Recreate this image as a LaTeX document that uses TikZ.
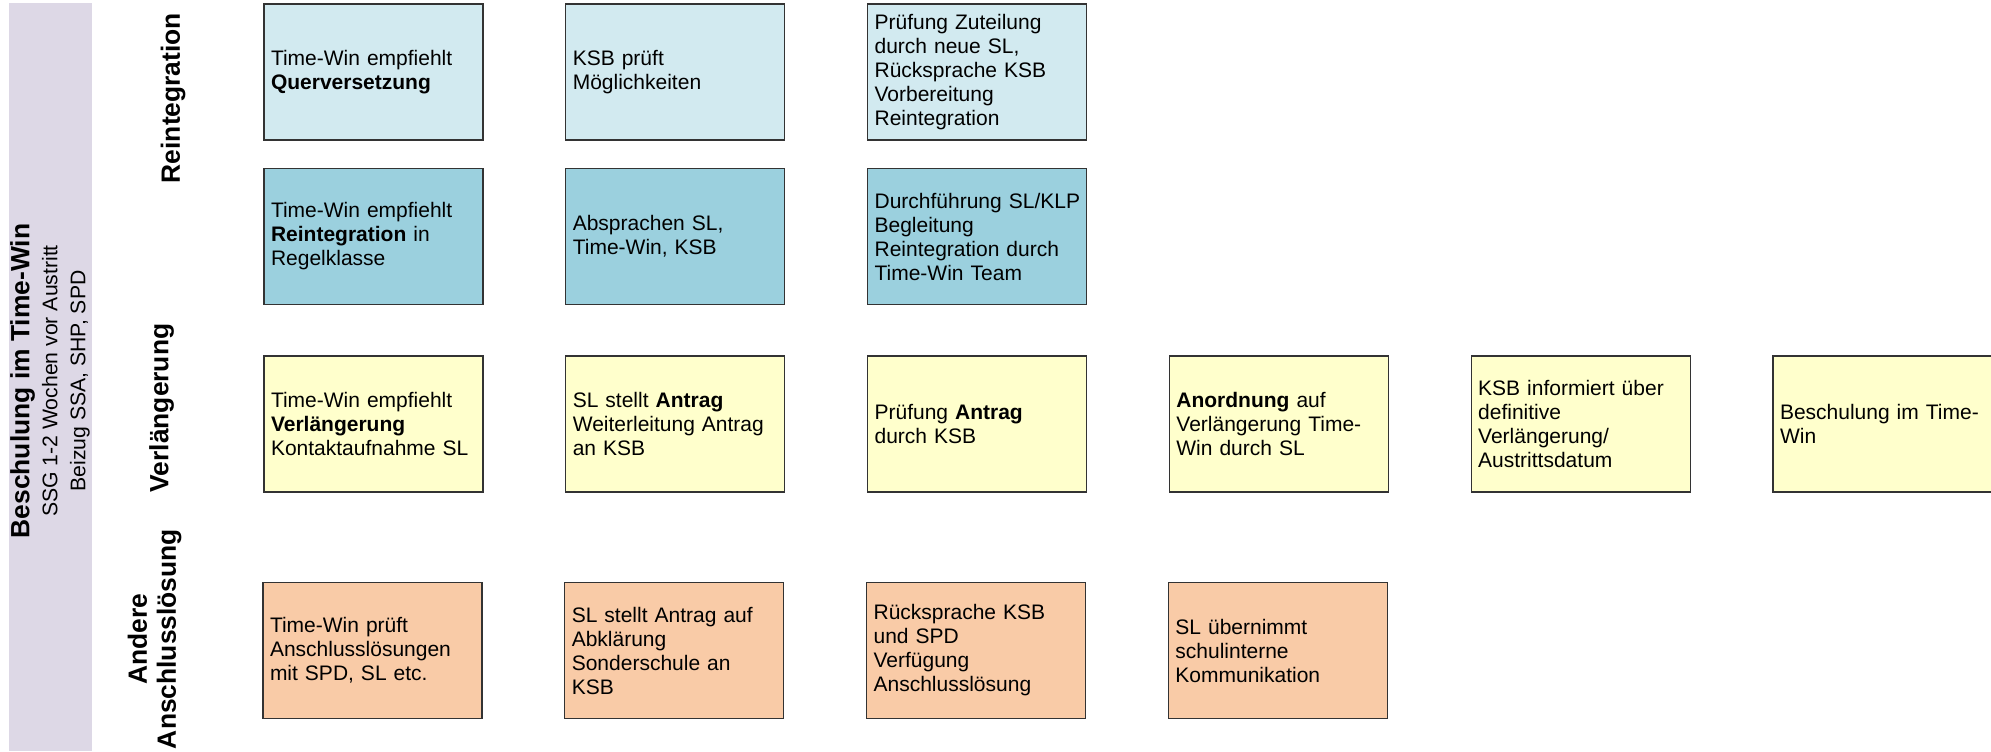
\documentclass[tikz,border=0pt]{standalone}
\usepackage{fontspec}
\setmainfont{Liberation Sans}
\usetikzlibrary{positioning}

\definecolor{bandlila}{HTML}{DDD8E6}
\definecolor{querblau}{HTML}{D2EAF0}
\definecolor{reintblau}{HTML}{9BD0DE}
\definecolor{verlgelb}{HTML}{FFFFCC}
\definecolor{anschlorange}{HTML}{F9CBA7}

\begin{document}
\begin{tikzpicture}[x=0.5pt,y=-0.5pt,node distance=40.8pt,
        taskbox/.style={rectangle,draw=black!80,line width=0.6pt,
          minimum width=109.5pt,minimum height=68pt,
          inner xsep=3.5pt,text width=102.5pt,align=left,
          font=\fontsize{10.5}{12}\selectfont},
        lanelabel/.style={rotate=90,align=center,
          font=\fontsize{13.2}{14.5}\selectfont\bfseries}]

  \path[use as bounding box] (0,0) rectangle (1991,751);
  \clip (0,0) rectangle (1991,751);

  % Seitenbalken
  \fill[bandlila] (9,3) rectangle (92,751);
  \node[rotate=90,align=center,font=\fontsize{10.6}{14}\selectfont] (titel) at (50,381)
    {{\fontsize{13.2}{14}\selectfont\bfseries Beschulung im Time-Win}\\
     SSG 1-2 Wochen vor Austritt\\
     Beizug SSA, SHP, SPD};

  % Zeilentitel
  \node[lanelabel] (lreint) at (173,98) {Reintegration};
  \node[lanelabel] (lverl) at (161.5,408) {Verlängerung};
  \node[lanelabel] (lander) at (154.5,639) {Andere\\Anschlusslösung};

  % Querversetzung
  \node[taskbox,fill=querblau] (q1) at (373.5,72)
    {Time-Win empfiehlt\\\textbf{Querversetzung}};
  \node[taskbox,fill=querblau] (q2) [right=of q1]
    {KSB prüft\\Möglichkeiten};
  \node[taskbox,fill=querblau] (q3) [right=of q2]
    {Prüfung Zuteilung\\durch neue SL,\\Rücksprache KSB\\Vorbereitung\\Reintegration};

  % Reintegration
  \node[taskbox,fill=reintblau] (i1) at (373.5,236.5)
    {Time-Win empfiehlt\\\textbf{Reintegration} in\\Regelklasse};
  \node[taskbox,fill=reintblau] (i2) [right=of i1]
    {Absprachen SL,\\Time-Win, KSB};
  \node[taskbox,fill=reintblau] (i3) [right=of i2]
    {\mbox{Durchführung SL/KLP}\\Begleitung\\Reintegration durch\\Time-Win Team};

  % Verlaengerung
  \node[taskbox,fill=verlgelb] (v1) at (373.5,424)
    {Time-Win empfiehlt\\\textbf{Verlängerung}\\Kontaktaufnahme SL};
  \node[taskbox,fill=verlgelb] (v2) [right=of v1]
    {SL stellt \textbf{Antrag}\\Weiterleitung Antrag\\an KSB};
  \node[taskbox,fill=verlgelb] (v3) [right=of v2]
    {Prüfung \textbf{Antrag}\\durch KSB};
  \node[taskbox,fill=verlgelb] (v4) [right=of v3]
    {\textbf{Anordnung} auf\\Verlängerung Time-\\Win durch SL};
  \node[taskbox,fill=verlgelb] (v5) [right=of v4]
    {KSB informiert über\\definitive\\Verlängerung/\\Austrittsdatum};
  \node[taskbox,fill=verlgelb] (v6) [right=of v5]
    {Beschulung im Time-\\Win};

  % Andere Anschlussloesung
  \node[taskbox,fill=anschlorange] (a1) at (372.5,650.5)
    {Time-Win prüft\\Anschlusslösungen\\mit SPD, SL etc.};
  \node[taskbox,fill=anschlorange] (a2) [right=of a1]
    {SL stellt Antrag auf\\Abklärung\\Sonderschule an\\KSB};
  \node[taskbox,fill=anschlorange] (a3) [right=of a2]
    {Rücksprache KSB\\und SPD\\Verfügung\\Anschlusslösung};
  \node[taskbox,fill=anschlorange] (a4) [right=of a3]
    {SL übernimmt\\schulinterne\\Kommunikation};

\end{tikzpicture}
\end{document}
